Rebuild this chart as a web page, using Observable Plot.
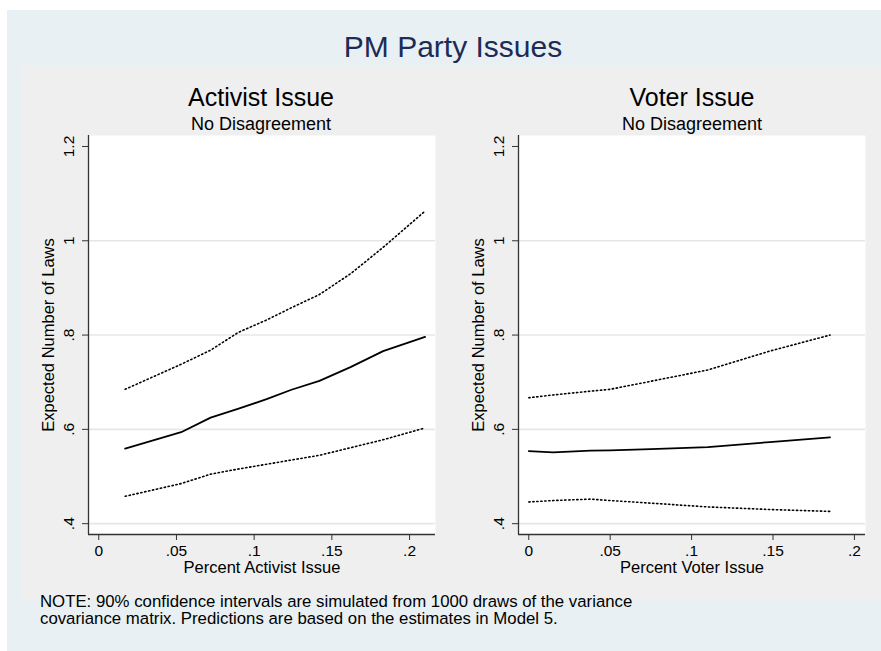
<!DOCTYPE html>
<html>
<head>
<meta charset="utf-8">
<script src="https://cdn.jsdelivr.net/npm/d3@7"></script>
<script src="https://cdn.jsdelivr.net/npm/@observablehq/plot@0.6"></script>
<style>
  html, body { margin: 0; padding: 0; background: #fff; }
  #page { position: relative; width: 881px; height: 651px; overflow: hidden; font-family: "Liberation Sans", Arial, sans-serif; }
  #page > svg.bg { position: absolute; left: 0; top: 0; }
  .panel { position: absolute; top: 65px; }
</style>
</head>
<body>
<div id="page"></div>
<script>
// ---- data ----
const mainTitle = "PM Party Issues";
const panelTitles = ["Activist Issue", "Voter Issue"];
const panelSubtitle = "No Disagreement";
const xLabels = ["Percent Activist Issue", "Percent Voter Issue"];
const yLabel = "Expected Number of Laws";
const noteLines = [
  "NOTE: 90% confidence intervals are simulated from 1000 draws of the variance",
  "covariance matrix. Predictions are based on the estimates in Model 5."
];

const xTicks = [0, 0.05, 0.1, 0.15, 0.2];
const xTickLabels = ["0", ".05", ".1", ".15", ".2"];
const yTicks = [0.4, 0.6, 0.8, 1, 1.2];
const yTickLabels = [".4", ".6", ".8", "1", "1.2"];
const yGridTicks = [0.4, 0.6, 0.8, 1];

// Activist issue panel
const activistX     = [0.017, 0.053, 0.072, 0.090, 0.108, 0.124, 0.142, 0.162, 0.183, 0.210];
const activistEst   = [0.559, 0.594, 0.625, 0.644, 0.664, 0.684, 0.703, 0.732, 0.766, 0.796];
const activistUpper = [0.685, 0.738, 0.768, 0.806, 0.832, 0.858, 0.886, 0.930, 0.986, 1.063];
const activistLower = [0.458, 0.485, 0.505, 0.516, 0.526, 0.535, 0.545, 0.561, 0.578, 0.603];

// Voter issue panel
const voterX     = [0, 0.015, 0.038, 0.050, 0.075, 0.110, 0.148, 0.185];
const voterEst   = [0.554, 0.551, 0.555, 0.5555, 0.558, 0.5625, 0.573, 0.583];
const voterUpper = [0.667, 0.673, 0.681, 0.685, 0.702, 0.726, 0.766, 0.800];
const voterLower = [0.446, 0.449, 0.452, 0.449, 0.4435, 0.4355, 0.430, 0.426];

const yDomain = [0.377, 1.2233];
const xDomains = [[-0.0066, 0.2167], [-0.0063, 0.2068]];

// ---- page background and titles ----
const page = d3.select("#page");
const bg = page.append("svg").attr("class", "bg").attr("width", 881).attr("height", 651);
bg.append("rect").attr("x", 0).attr("y", 0).attr("width", 881).attr("height", 651).attr("fill", "#ffffff");
bg.append("rect").attr("x", 7).attr("y", 10).attr("width", 874).attr("height", 641).attr("fill", "#e9f0f3");
bg.append("rect").attr("x", 21).attr("y", 65).attr("width", 860).attr("height", 534).attr("fill", "#efefef");
bg.append("text").attr("x", 453).attr("y", 57).attr("text-anchor", "middle")
  .attr("font-size", 30).attr("fill", "#1c2c56").text(mainTitle);
const centers = [261, 692];
panelTitles.forEach((t, i) => {
  bg.append("text").attr("x", centers[i]).attr("y", 106).attr("text-anchor", "middle")
    .attr("font-size", 25).attr("fill", "#000").text(t);
  bg.append("text").attr("x", centers[i]).attr("y", 130).attr("text-anchor", "middle")
    .attr("font-size", 18).attr("fill", "#000").text(panelSubtitle);
});
noteLines.forEach((t, i) => {
  bg.append("text").attr("x", 40).attr("y", 607 + i * 17)
    .attr("font-size", 16.8).attr("fill", "#000").text(t);
});

// ---- panels ----
function rows(xs, est, up, lo) {
  const out = [];
  xs.forEach((x, i) => {
    out.push({x, y: est[i], s: "est"});
    out.push({x, y: up[i], s: "upper"});
    out.push({x, y: lo[i], s: "lower"});
  });
  return out;
}

function panel(data, xDomain, xLabel) {
  return Plot.plot({
    width: 430, height: 534,
    marginLeft: 67, marginRight: 16, marginTop: 70, marginBottom: 65,
    style: {background: "transparent", fontFamily: "'Liberation Sans', Arial, sans-serif", fontSize: "15px", color: "#000", overflow: "visible"},
    x: {domain: xDomain, axis: null},
    y: {domain: yDomain, axis: null},
    marks: [
      Plot.frame({fill: "#ffffff", stroke: null}),
      Plot.gridY(yGridTicks, {stroke: "#e4e7e9", strokeOpacity: 1, strokeWidth: 1.6}),
      Plot.line(data.filter(d => d.s !== "est"), {x: "x", y: "y", z: "s", stroke: "#000", strokeWidth: 1.6, strokeDasharray: "1.3 2.7"}),
      Plot.line(data.filter(d => d.s === "est"), {x: "x", y: "y", stroke: "#000", strokeWidth: 1.8}),
      Plot.ruleX([xDomain[0]], {stroke: "#333", strokeWidth: 1.3}),
      Plot.ruleY([yDomain[0]], {stroke: "#333", strokeWidth: 1.3}),
      Plot.axisX({ticks: xTicks, tickFormat: () => "", tickSize: 6, label: null, stroke: "#333"}),
      Plot.axisY({ticks: yTicks, tickFormat: () => "", tickSize: 6, label: null, stroke: "#333"}),
      Plot.text(xTicks, {x: d => d, text: d => xTickLabels[xTicks.indexOf(d)], frameAnchor: "bottom", textAnchor: "middle", dy: 21, fontSize: 15.5, fill: "#000"}),
      Plot.text(yTicks, {y: d => d, text: d => yTickLabels[yTicks.indexOf(d)], frameAnchor: "left", textAnchor: "middle", dx: -19, rotate: -90, fontSize: 15.5, fill: "#000"}),
      Plot.text([xLabel], {text: d => d, frameAnchor: "bottom", textAnchor: "middle", dy: 38, fontSize: 16.5, fill: "#000"}),
      Plot.text([yLabel], {text: d => d, frameAnchor: "left", textAnchor: "middle", dx: -40, rotate: -90, fontSize: 16.5, fill: "#000"})
    ]
  });
}

const p1 = panel(rows(activistX, activistEst, activistUpper, activistLower), xDomains[0], xLabels[0]);
const p2 = panel(rows(voterX, voterEst, voterUpper, voterLower), xDomains[1], xLabels[1]);
p1.classList.add("panel"); p1.style.left = "21px";
p2.classList.add("panel"); p2.style.left = "451px";
document.getElementById("page").appendChild(p1);
document.getElementById("page").appendChild(p2);
</script>
</body>
</html>
